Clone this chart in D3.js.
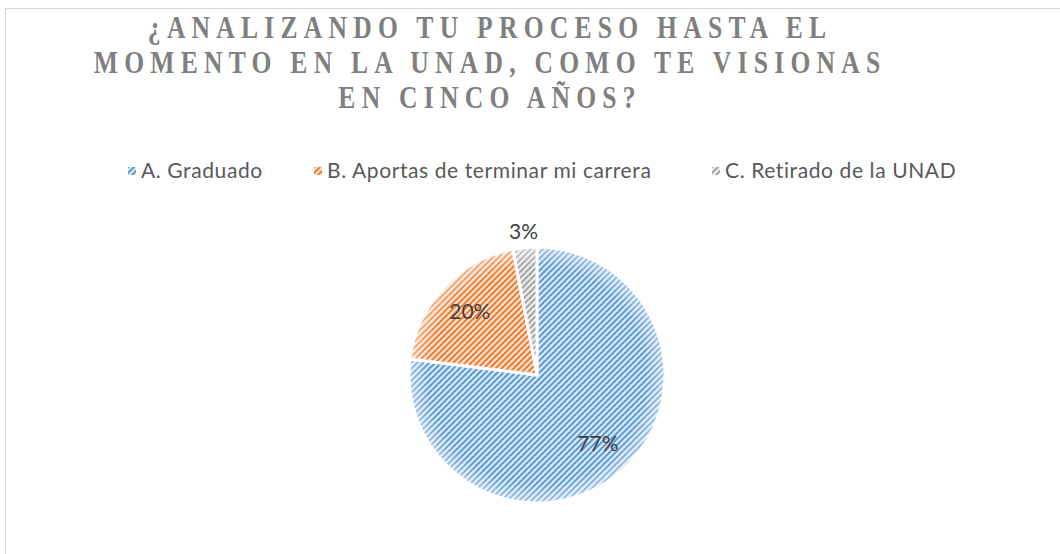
<!DOCTYPE html>
<html>
<head>
<meta charset="utf-8">
<script src="https://cdn.jsdelivr.net/npm/d3@7"></script>
<style>
  body { margin: 0; background: #fff; }
  svg { display: block; }
</style>
</head>
<body>
<div id="chart"></div>
<script>
// chart data
const titleLines = ["¿ANALIZANDO TU PROCESO HASTA EL", "MOMENTO EN LA UNAD, COMO TE VISIONAS", "EN CINCO AÑOS?"];
const categories = ["A. Graduado", "B. Aportas de terminar mi carrera", "C. Retirado de la UNAD"];
const values = [77, 20, 3];
const fgColors = ["#5B9BD5", "#ED7D31", "#A5A5A5"];
const bgColors = ["#DCE9F6", "#FBE3D3", "#EDEDED"];

const w = 1060, h = 554;
const svg = d3.select("#chart").append("svg")
    .attr("width", w)
    .attr("height", h);

// chart frame (cut off at right / bottom)
svg.append("rect")
    .attr("x", 5.5).attr("y", 8.5)
    .attr("width", w + 10).attr("height", h + 10)
    .attr("fill", "#fff")
    .attr("stroke", "#D9D9D9");

const defs = svg.append("defs");
// hatch patterns (wide upward diagonal)
categories.forEach((c, i) => {
    const p = defs.append("pattern")
        .attr("id", "hatch" + i)
        .attr("patternUnits", "userSpaceOnUse")
        .attr("width", 6).attr("height", 6);
    p.append("rect").attr("width", 6).attr("height", 6).attr("fill", bgColors[i]);
    p.append("path")
        .attr("d", "M-1,1 l2,-2 M0,6 l6,-6 M5,7 l2,-2")
        .attr("stroke", fgColors[i])
        .attr("stroke-width", 2);
});
// soft edge glow on the pie
const glow = defs.append("radialGradient")
    .attr("id", "glow")
    .attr("gradientUnits", "userSpaceOnUse")
    .attr("cx", 0).attr("cy", 0).attr("r", 128);
glow.append("stop").attr("offset", "0.85").attr("stop-color", "#fff").attr("stop-opacity", 0);
glow.append("stop").attr("offset", "1").attr("stop-color", "#fff").attr("stop-opacity", 0.45);

// title (condensed serif, wide tracking)
const titleScale = 0.8, titleSpacing = 7.8;
svg.append("g")
    .attr("transform", "translate(" + (487 + titleSpacing * titleScale / 2) + ",0) scale(" + titleScale + ",1)")
    .append("text")
    .attr("text-anchor", "middle")
    .attr("font-family", "Liberation Serif, serif")
    .attr("font-weight", "bold")
    .attr("font-size", 32)
    .attr("letter-spacing", titleSpacing)
    .attr("fill", "#7F7F7F")
    .selectAll("tspan")
    .data(titleLines)
    .join("tspan")
    .attr("x", 0)
    .attr("y", (d, i) => 38 + i * 35)
    .text(d => d);

// legend
const legendX = [128, 314, 712];
const legend = svg.append("g")
    .selectAll("g")
    .data(categories)
    .join("g")
    .attr("transform", (d, i) => "translate(" + legendX[i] + ",167)");
legend.append("rect")
    .attr("width", 8).attr("height", 8)
    .attr("fill", (d, i) => "url(#hatch" + i + ")");
legend.append("text")
    .attr("x", 13).attr("y", 11)
    .attr("font-family", "Lato, sans-serif")
    .attr("font-size", 21)
    .attr("letter-spacing", 0.6)
    .attr("fill", "#595959")
    .text(d => d);

// pie
const cx = 537, cy = 375, r = 128;
const pie = d3.pie().sort(null)(values);
const arc = d3.arc().innerRadius(0).outerRadius(r);
const g = svg.append("g").attr("transform", "translate(" + cx + "," + cy + ")");

const slices = g.selectAll("g.slice")
    .data(pie)
    .join("g")
    .attr("class", "slice");
slices.append("path")
    .attr("d", arc)
    .attr("fill", (d, i) => "url(#hatch" + i + ")");
slices.append("path")
    .attr("d", arc)
    .attr("fill", "url(#glow)")
    .attr("stroke", "#fff")
    .attr("stroke-width", 3)
    .attr("stroke-linejoin", "round");

// data labels
const labelArc = d3.arc().innerRadius(r * 0.72).outerRadius(r * 0.72);
const outArc = d3.arc().innerRadius(r + 16).outerRadius(r + 16);
g.selectAll("text")
    .data(pie)
    .join("text")
    .attr("transform", (d, i) => "translate(" + (i === 2 ? outArc : labelArc).centroid(d) + ")")
    .attr("text-anchor", "middle")
    .attr("dy", "0.35em")
    .attr("font-family", "Lato, sans-serif")
    .attr("font-size", 21)
    .attr("fill", "#404040")
    .text(d => d.data + "%");
</script>
</body>
</html>
